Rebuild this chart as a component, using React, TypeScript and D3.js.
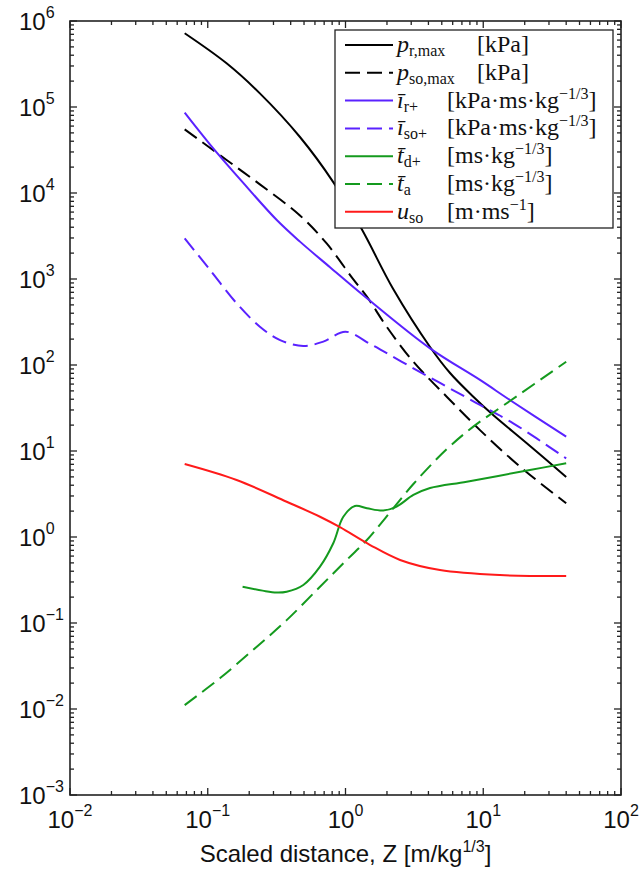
import * as d3 from "d3";
import { useEffect, useRef } from "react";

type Pt = [number, number];

// scaled distance Z [m/kg^1/3] -> value
const pRmax: Pt[] = [
  [0.068, 7.2e5], [0.137, 3.22e5], [0.239, 1.44e5], [0.467, 4.48e4], [0.815, 1.34e4],
  [1.31, 3.81e3], [2.22, 765], [4.11, 162], [5.74, 80.7], [8.47, 42.8], [11.8, 26.2],
  [20.7, 12.3], [40, 5.0],
];
const pSOmax: Pt[] = [
  [0.068, 5.5e4], [0.137, 2.42e4], [0.239, 1.26e4], [0.467, 5.48e3], [0.73, 2.59e3],
  [1.14, 989], [1.43, 623], [1.99, 279], [3.11, 109], [5.43, 42.8], [9.47, 17.5],
  [18.5, 6.57], [40, 2.47],
];
const iR: Pt[] = [
  [0.068, 8.59e4], [0.104, 3.66e4], [0.181, 1.31e4], [0.317, 4.85e3], [0.467, 2.72e3],
  [0.772, 1.37e3], [1.43, 597], [4.11, 156], [9.47, 67], [15.6, 39.2], [40, 14.7],
];
const iSO: Pt[] = [
  [0.068, 2.97e3], [0.104, 1.27e3], [0.162, 522], [0.239, 279], [0.335, 195], [0.494, 166],
  [0.69, 187], [1.0, 244], [1.51, 175], [1.78, 152], [3.11, 91.6], [5.43, 56], [9.47, 34.3],
  [16.5, 21], [40, 8.2],
];
const tD: Pt[] = [
  [0.179, 0.264], [0.25, 0.238], [0.316, 0.226], [0.374, 0.231], [0.494, 0.277],
  [0.653, 0.452], [0.815, 0.845], [0.964, 1.72], [1.17, 2.29], [1.43, 2.16], [1.88, 2.03],
  [2.35, 2.26], [3.11, 3.08], [4.11, 3.71], [7.59, 4.4], [21.8, 6.01], [40, 7.2],
];
const tA: Pt[] = [
  [0.068, 0.0111], [0.123, 0.0229], [0.227, 0.053], [0.374, 0.108], [0.653, 0.264],
  [1.02, 0.541], [1.43, 0.923], [1.94, 1.65], [3.11, 4.13], [5.43, 10.5], [8.47, 19.2],
  [15.6, 38.1], [40, 109],
];
const uSO: Pt[] = [
  [0.068, 7.06], [0.162, 4.6], [0.374, 2.57], [0.653, 1.72], [0.912, 1.3], [1.51, 0.807],
  [2.49, 0.541], [4.85, 0.413], [13.2, 0.361], [40, 0.352],
];

const zExps = [-2, -1, 0, 1, 2];
const yExps = [-3, -2, -1, 0, 1, 2, 3, 4, 5, 6];

// legend: symbol, subscript, unit text (before / superscript / after)
const symbols = ["p", "p", "\u012B", "\u012B", "t\u0304", "t\u0304", "u"];
const subs = ["r,max", "so,max", "r+", "so+", "d+", "a", "so"];
const unitPre = ["[kPa]", "[kPa]", "[kPa\u00B7ms\u00B7kg", "[kPa\u00B7ms\u00B7kg", "[ms\u00B7kg", "[ms\u00B7kg", "[m\u00B7ms"];
const unitSup = ["", "", "\u22121/3", "\u22121/3", "\u22121/3", "\u22121/3", "\u22121"];
const unitPost = ["", "", "]", "]", "]", "]", "]"];

const BLUE = "#5a22ff";
const GREEN = "#149a1e";
const RED = "#ff1a1a";

const series = [
  { data: pRmax, color: "#000", dash: false },
  { data: pSOmax, color: "#000", dash: true },
  { data: iR, color: BLUE, dash: false },
  { data: iSO, color: BLUE, dash: true },
  { data: tD, color: GREEN, dash: false },
  { data: tA, color: GREEN, dash: true },
  { data: uSO, color: RED, dash: false },
];

const sans = "'Liberation Sans', Arial, Helvetica, sans-serif";
const serif = "'Liberation Serif', 'Times New Roman', serif";

export default function App() {
  const ref = useRef<SVGSVGElement>(null);

  useEffect(() => {
    const W = 639;
    const H = 872;
    const margin = { top: 21, right: 18, bottom: 77, left: 70 };
    const svg = d3.select(ref.current);
    svg.selectAll("*").remove();

    const x = d3.scaleLog().domain([1e-2, 1e2]).range([margin.left, W - margin.right]);
    const y = d3.scaleLog().domain([1e-3, 1e6]).range([H - margin.bottom, margin.top]);
    const [xl, xr] = x.range();
    const [yb, yt] = y.range();

    // curves
    const line = d3
      .line<Pt>()
      .x((d) => x(d[0]))
      .y((d) => y(d[1]))
      .curve(d3.curveCatmullRom.alpha(0.5));

    svg
      .append("g")
      .selectAll("path")
      .data(series)
      .join("path")
      .attr("d", (d) => line(d.data))
      .attr("fill", "none")
      .attr("stroke", (d) => d.color)
      .attr("stroke-width", 2)
      .attr("stroke-dasharray", (d) => (d.dash ? "15 7" : null));

    // box + ticks
    const ax = svg.append("g").attr("stroke", "#222").attr("stroke-width", 1.3);
    ax.append("rect")
      .attr("x", xl)
      .attr("y", yt)
      .attr("width", xr - xl)
      .attr("height", yb - yt)
      .attr("fill", "none")
      .attr("stroke-width", 1.6);

    zExps.forEach((e) => {
      for (let m = 1; m <= 9; m++) {
        const v = m * Math.pow(10, e);
        if (v > 1e2) break;
        const px = x(v);
        const len = m === 1 ? 7 : 4;
        ax.append("line").attr("x1", px).attr("x2", px).attr("y1", yb).attr("y2", yb - len);
        ax.append("line").attr("x1", px).attr("x2", px).attr("y1", yt).attr("y2", yt + len);
      }
    });
    yExps.forEach((e) => {
      for (let m = 1; m <= 9; m++) {
        const v = m * Math.pow(10, e);
        if (v > 1e6) break;
        const py = y(v);
        const len = m === 1 ? 7 : 4;
        ax.append("line").attr("y1", py).attr("y2", py).attr("x1", xl).attr("x2", xl + len);
        ax.append("line").attr("y1", py).attr("y2", py).attr("x1", xr).attr("x2", xr - len);
      }
    });

    // tick labels
    const fmt = (e: number) => (e < 0 ? "\u2212" + -e : String(e));
    yExps.forEach((e) => {
      const t = svg
        .append("text")
        .attr("x", 19)
        .attr("y", y(Math.pow(10, e)) + 9)
        .attr("font-family", sans)
        .attr("font-size", 24)
        .attr("fill", "#111");
      t.append("tspan").text("10");
      t.append("tspan").attr("dy", -12).attr("font-size", 16).text(fmt(e));
    });
    zExps.forEach((e) => {
      const t = svg
        .append("text")
        .attr("x", x(Math.pow(10, e)))
        .attr("y", yb + 33)
        .attr("text-anchor", "middle")
        .attr("font-family", sans)
        .attr("font-size", 24)
        .attr("fill", "#111");
      t.append("tspan").text("10");
      t.append("tspan").attr("dy", -12).attr("font-size", 16).text(fmt(e));
    });

    // axis title
    const title = svg
      .append("text")
      .attr("x", (xl + xr) / 2)
      .attr("y", 862)
      .attr("text-anchor", "middle")
      .attr("font-family", sans)
      .attr("font-size", 24)
      .attr("fill", "#111");
    title.append("tspan").text("Scaled distance, Z [m/kg");
    title.append("tspan").attr("dy", -10).attr("font-size", 16).text("1/3");
    title.append("tspan").attr("dy", 10).text("]");

    // legend
    const lg = svg.append("g");
    lg.append("rect")
      .attr("x", 335)
      .attr("y", 30)
      .attr("width", 278)
      .attr("height", 198)
      .attr("fill", "#fff")
      .attr("stroke", "#222")
      .attr("stroke-width", 1.3);

    series.forEach((s, i) => {
      const ry = 45 + i * 27.8;
      lg.append("line")
        .attr("x1", 345)
        .attr("x2", 393)
        .attr("y1", ry)
        .attr("y2", ry)
        .attr("stroke", s.color)
        .attr("stroke-width", 2)
        .attr("stroke-dasharray", s.dash ? "15 7" : null);

      const t = lg
        .append("text")
        .attr("x", 397)
        .attr("y", ry + 7)
        .attr("font-family", serif)
        .attr("font-size", 24)
        .attr("fill", "#111");
      t.append("tspan").attr("font-style", "italic").text(symbols[i]);
      t.append("tspan").attr("font-size", 16).attr("dy", 4).text(subs[i]);

      const u = lg
        .append("text")
        .attr("x", i < 2 ? 477 : 447)
        .attr("y", ry + 7)
        .attr("font-family", serif)
        .attr("font-size", 24)
        .attr("fill", "#111");
      u.append("tspan").text(unitPre[i]);
      if (unitSup[i]) {
        u.append("tspan").attr("dy", -9).attr("font-size", 16).text(unitSup[i]);
        u.append("tspan").attr("dy", 9).text(unitPost[i]);
      }
    });
  }, []);

  return (
    <svg
      ref={ref}
      width={639}
      height={872}
      style={{ position: "absolute", left: 0, top: 0, background: "#fff" }}
    />
  );
}
